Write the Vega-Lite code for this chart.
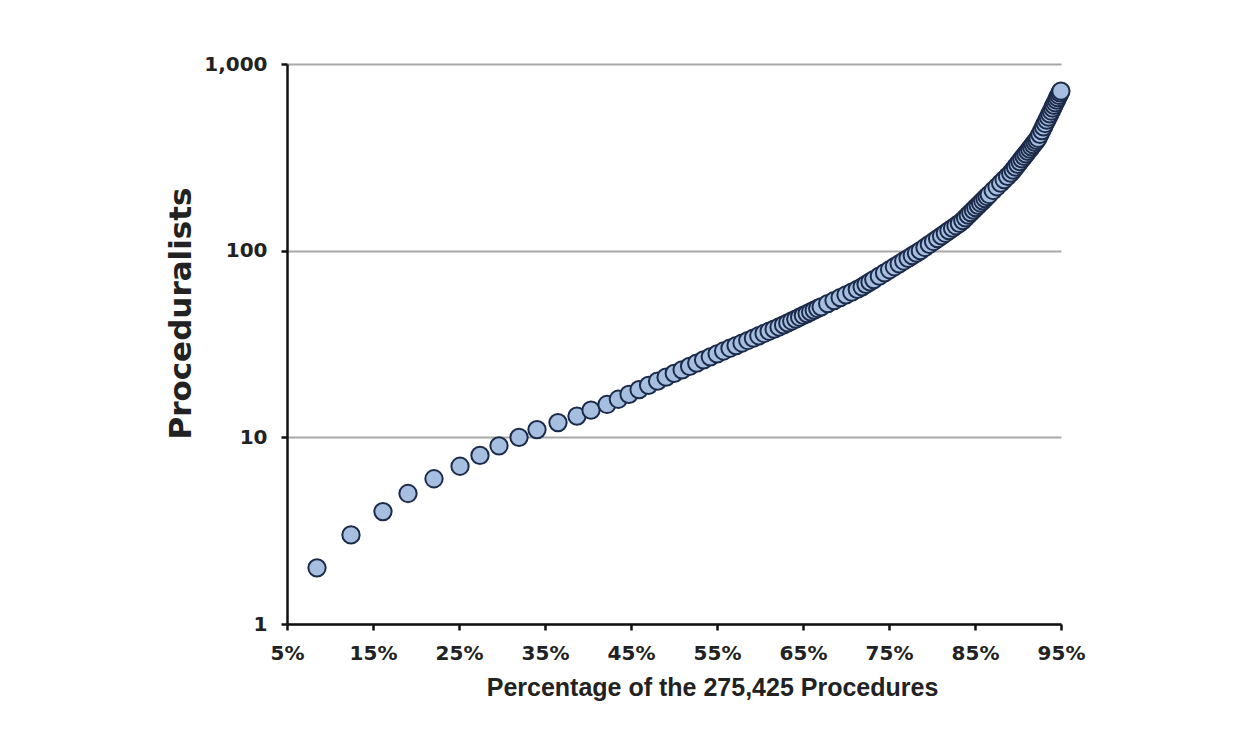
{
  "$schema": "https://vega.github.io/schema/vega-lite/v6.json",
  "width": 774,
  "height": 560,
  "autosize": {"type": "none"},
  "padding": {"left": 287, "top": 64, "right": 187, "bottom": 123},
  "background": "white",
  "config": {"view": {"stroke": null}, "font": "DejaVu Sans"},
  "data": {"values": [
    {"pct": 8.49, "n": 2}, {"pct": 12.44, "n": 3}, {"pct": 16.16, "n": 4}, {"pct": 19.07, "n": 5},
    {"pct": 22.09, "n": 6}, {"pct": 25.12, "n": 7}, {"pct": 27.44, "n": 8}, {"pct": 29.65, "n": 9},
    {"pct": 31.98, "n": 10}, {"pct": 34.07, "n": 11}, {"pct": 36.51, "n": 12}, {"pct": 38.72, "n": 13},
    {"pct": 40.35, "n": 14}, {"pct": 42.21, "n": 15}, {"pct": 43.53, "n": 16}, {"pct": 44.77, "n": 17},
    {"pct": 45.94, "n": 18}, {"pct": 47.04, "n": 19}, {"pct": 48.09, "n": 20}, {"pct": 49.08, "n": 21},
    {"pct": 50.03, "n": 22}, {"pct": 50.94, "n": 23}, {"pct": 51.81, "n": 24}, {"pct": 52.64, "n": 25},
    {"pct": 53.44, "n": 26}, {"pct": 54.22, "n": 27}, {"pct": 55.01, "n": 28}, {"pct": 55.77, "n": 29},
    {"pct": 56.51, "n": 30}, {"pct": 57.22, "n": 31}, {"pct": 57.91, "n": 32}, {"pct": 58.58, "n": 33},
    {"pct": 59.23, "n": 34}, {"pct": 59.86, "n": 35}, {"pct": 60.47, "n": 36}, {"pct": 61.06, "n": 37},
    {"pct": 61.64, "n": 38}, {"pct": 62.21, "n": 39}, {"pct": 62.74, "n": 40}, {"pct": 63.23, "n": 41},
    {"pct": 63.69, "n": 42}, {"pct": 64.16, "n": 43}, {"pct": 64.61, "n": 44}, {"pct": 65.04, "n": 45},
    {"pct": 65.48, "n": 46}, {"pct": 65.89, "n": 47}, {"pct": 66.30, "n": 48}, {"pct": 66.71, "n": 49},
    {"pct": 67.11, "n": 50}, {"pct": 67.87, "n": 52}, {"pct": 68.61, "n": 54}, {"pct": 69.32, "n": 56},
    {"pct": 70.00, "n": 58}, {"pct": 70.67, "n": 60}, {"pct": 71.31, "n": 62}, {"pct": 71.87, "n": 64},
    {"pct": 72.33, "n": 66}, {"pct": 72.79, "n": 68}, {"pct": 73.23, "n": 70}, {"pct": 73.87, "n": 73},
    {"pct": 74.48, "n": 76}, {"pct": 75.07, "n": 79}, {"pct": 75.63, "n": 82}, {"pct": 76.18, "n": 85},
    {"pct": 76.71, "n": 88}, {"pct": 77.22, "n": 91}, {"pct": 77.71, "n": 94}, {"pct": 78.19, "n": 97},
    {"pct": 78.65, "n": 100}, {"pct": 79.18, "n": 104}, {"pct": 79.69, "n": 108}, {"pct": 80.18, "n": 112},
    {"pct": 80.65, "n": 116}, {"pct": 81.11, "n": 120}, {"pct": 81.55, "n": 124}, {"pct": 81.97, "n": 128},
    {"pct": 82.39, "n": 132}, {"pct": 82.79, "n": 136}, {"pct": 83.18, "n": 140}, {"pct": 83.58, "n": 145},
    {"pct": 83.90, "n": 150}, {"pct": 84.21, "n": 155}, {"pct": 84.51, "n": 160}, {"pct": 84.81, "n": 165},
    {"pct": 85.09, "n": 170}, {"pct": 85.37, "n": 175}, {"pct": 85.64, "n": 180}, {"pct": 85.90, "n": 185},
    {"pct": 86.16, "n": 190}, {"pct": 86.40, "n": 195}, {"pct": 86.65, "n": 200}, {"pct": 87.11, "n": 210},
    {"pct": 87.56, "n": 220}, {"pct": 87.98, "n": 230}, {"pct": 88.39, "n": 240}, {"pct": 88.78, "n": 250},
    {"pct": 89.15, "n": 260}, {"pct": 89.44, "n": 270}, {"pct": 89.71, "n": 280}, {"pct": 89.97, "n": 290},
    {"pct": 90.22, "n": 300}, {"pct": 90.46, "n": 310}, {"pct": 90.70, "n": 320}, {"pct": 90.92, "n": 330},
    {"pct": 91.14, "n": 340}, {"pct": 91.36, "n": 350}, {"pct": 91.57, "n": 360}, {"pct": 91.77, "n": 370},
    {"pct": 91.97, "n": 380}, {"pct": 92.16, "n": 390}, {"pct": 92.33, "n": 400}, {"pct": 92.55, "n": 420},
    {"pct": 92.77, "n": 440}, {"pct": 92.97, "n": 460}, {"pct": 93.16, "n": 480}, {"pct": 93.35, "n": 500},
    {"pct": 93.53, "n": 520}, {"pct": 93.70, "n": 540}, {"pct": 93.87, "n": 560}, {"pct": 94.03, "n": 580},
    {"pct": 94.18, "n": 600}, {"pct": 94.33, "n": 620}, {"pct": 94.48, "n": 640}, {"pct": 94.62, "n": 660},
    {"pct": 94.75, "n": 680}, {"pct": 94.88, "n": 700}, {"pct": 94.99, "n": 716}
  ]},
  "mark": {"type": "circle", "size": 300, "fill": "#a6bfe1", "stroke": "#1d2b4a", "strokeWidth": 2, "opacity": 1, "fillOpacity": 1, "clip": false},
  "encoding": {
    "x": {
      "field": "pct",
      "type": "quantitative",
      "scale": {"domain": [5, 95], "nice": false, "zero": false},
      "axis": {
        "values": [5, 15, 25, 35, 45, 55, 65, 75, 85, 95],
        "labelExpr": "datum.value + '%'",
        "grid": false,
        "domainColor": "#111111",
        "domainWidth": 2.5,
        "tickColor": "#111111",
        "tickWidth": 2.5,
        "tickSize": 6,
        "labelFont": "DejaVu Sans",
        "labelFontWeight": "bold",
        "labelFontSize": 20,
        "labelColor": "#222222",
        "labelPadding": 13,
        "labelFlush": false,
        "labelOverlap": false,
        "title": "Percentage of the 275,425 Procedures",
        "titleFont": "Liberation Sans",
        "titleFontSize": 25,
        "titleFontWeight": "bold",
        "titleColor": "#222222",
        "titlePadding": 12,
        "titleX": 425
      }
    },
    "y": {
      "field": "n",
      "type": "quantitative",
      "scale": {"type": "log", "domain": [1, 1000], "nice": false},
      "axis": {
        "values": [1, 10, 100, 1000],
        "format": ",",
        "grid": true,
        "gridColor": "#a8a8a8",
        "gridWidth": 2,
        "domainColor": "#111111",
        "domainWidth": 2.5,
        "tickColor": "#111111",
        "tickWidth": 2.5,
        "tickSize": 6,
        "labelFont": "DejaVu Sans",
        "labelFontWeight": "bold",
        "labelFontSize": 20,
        "labelColor": "#222222",
        "labelPadding": 14,
        "labelFlush": false,
        "labelOverlap": false,
        "title": "Proceduralists",
        "titleFont": "DejaVu Sans",
        "titleFontSize": 31,
        "titleFontWeight": "bold",
        "titleColor": "#222222",
        "titlePadding": 6,
        "titleY": 249
      }
    }
  }
}
